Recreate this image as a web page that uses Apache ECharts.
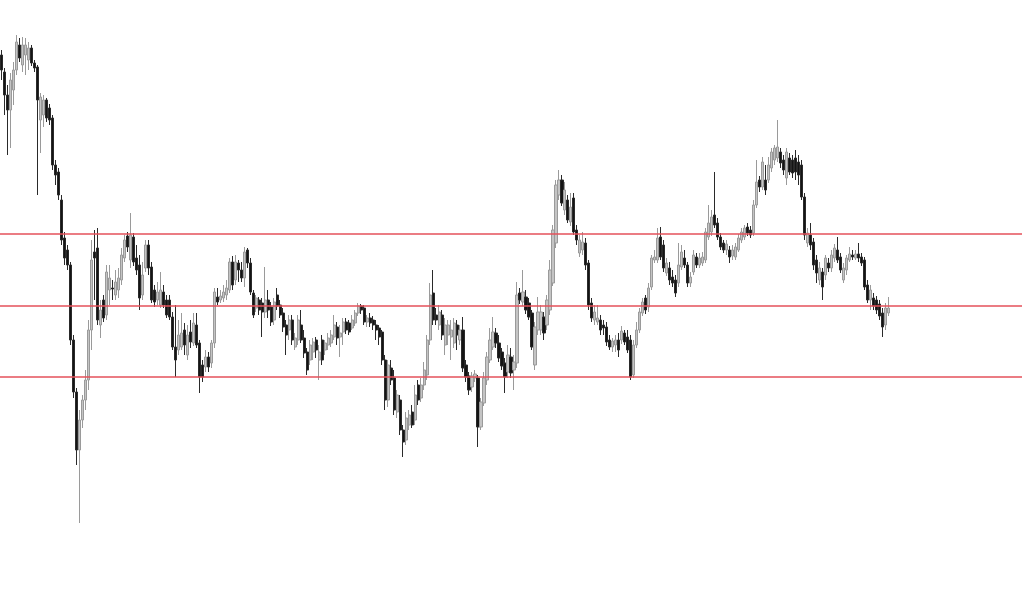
<!DOCTYPE html>
<html>
<head>
<meta charset="utf-8">
<script src="https://cdn.jsdelivr.net/npm/echarts@6/dist/echarts.min.js"></script>
<style>
html,body{margin:0;padding:0;background:#fff;}
#chart{width:1022px;height:600px;}
</style>
</head>
<body>
<div id="chart"></div>
<script>
// Price levels of the three horizontal red lines
const levels = [1366, 1294, 1223];

// Candles: [open, close, low, high]
const candles = [
[1545,1530,1520,1550],[1528,1505,1485,1532],[1505,1490,1445,1515],[1490,1520,1452,1527],[1510,1530,1495,1538],
[1530,1558,1525,1565],[1555,1542,1538,1562],[1535,1555,1528,1563],[1545,1555,1525,1562],[1540,1552,1530,1558],
[1552,1537,1534,1555],[1537,1532,1528,1540],[1533,1500,1405,1535],[1480,1503,1447,1507],[1485,1500,1473,1505],
[1500,1482,1478,1502],[1492,1480,1475,1496],[1482,1435,1430,1485],[1435,1425,1415,1440],[1428,1405,1400,1432],
[1400,1360,1355,1405],[1362,1342,1335,1368],[1350,1335,1330,1355],[1335,1260,1255,1338],[1260,1208,1202,1265],
[1208,1150,1135,1212],[1150,1180,1077,1190],[1180,1200,1172,1205],[1200,1220,1190,1230],[1220,1270,1210,1280],
[1270,1340,1250,1360],[1348,1342,1300,1370],[1352,1280,1275,1372],[1275,1290,1262,1300],[1300,1282,1278,1305],
[1285,1328,1280,1335],[1310,1322,1295,1335],[1312,1311,1300,1320],[1305,1318,1300,1330],[1310,1322,1302,1332],
[1320,1345,1315,1352],[1342,1360,1338,1365],[1364,1353,1348,1368],[1340,1365,1332,1387],[1363,1338,1334,1367],
[1342,1330,1325,1355],[1335,1302,1290,1345],[1305,1325,1300,1338],[1332,1355,1328,1360],[1355,1332,1325,1360],
[1333,1300,1297,1338],[1310,1298,1293,1315],[1300,1308,1295,1318],[1295,1310,1292,1328],[1308,1295,1292,1315],
[1300,1285,1282,1305],[1300,1283,1280,1305],[1283,1253,1250,1288],[1253,1240,1223,1295],[1250,1265,1245,1280],
[1253,1267,1250,1287],[1270,1255,1245,1277],[1245,1265,1240,1275],[1268,1258,1252,1280],[1257,1277,1254,1287],
[1275,1255,1252,1287],[1257,1223,1207,1260],[1235,1223,1218,1240],[1233,1243,1228,1250],[1243,1233,1228,1248],
[1237,1257,1232,1260],[1257,1308,1252,1312],[1303,1298,1295,1312],[1300,1304,1297,1310],[1302,1308,1298,1315],
[1305,1312,1300,1320],[1310,1338,1307,1342],[1338,1315,1310,1344],[1320,1338,1315,1345],[1337,1330,1318,1340],
[1330,1322,1318,1338],[1322,1348,1313,1353],[1350,1337,1332,1352],[1337,1308,1305,1342],[1307,1285,1282,1310],
[1292,1302,1288,1305],[1300,1290,1285,1303],[1297,1288,1263,1302],[1288,1300,1282,1333],[1300,1290,1282,1310],
[1293,1278,1274,1298],[1280,1298,1275,1302],[1305,1294,1290,1312],[1295,1285,1282,1300],[1287,1273,1268,1292],
[1275,1265,1245,1280],[1270,1280,1260,1285],[1280,1260,1255,1285],[1253,1262,1250,1267],[1260,1280,1255,1285],
[1275,1260,1257,1290],[1262,1247,1242,1270],[1248,1230,1225,1252],[1240,1255,1235,1260],[1248,1258,1240,1262],
[1260,1250,1242,1263],[1240,1248,1220,1255],[1260,1240,1235,1265],[1250,1257,1245,1260],[1255,1262,1250,1267],
[1257,1265,1253,1270],[1263,1275,1260,1285],[1273,1262,1255,1278],[1263,1267,1243,1275],[1268,1278,1255,1282],
[1278,1270,1266,1282],[1277,1268,1265,1280],[1272,1280,1270,1285],[1277,1287,1274,1290],[1287,1294,1284,1297],
[1294,1290,1286,1296],[1292,1278,1275,1295],[1278,1282,1273,1285],[1282,1277,1273,1287],[1280,1275,1270,1284],
[1275,1270,1260,1280],[1272,1263,1255,1275],[1268,1240,1235,1270],[1240,1200,1190,1245],[1200,1235,1193,1240],
[1232,1220,1215,1240],[1222,1190,1185,1230],[1188,1205,1182,1210],[1200,1170,1165,1205],[1170,1158,1143,1175],
[1160,1182,1155,1188],[1175,1185,1170,1190],[1188,1175,1172,1195],[1180,1205,1175,1215],[1215,1200,1195,1220],
[1202,1215,1198,1222],[1215,1230,1210,1238],[1225,1260,1220,1265],[1260,1305,1255,1317],[1307,1280,1275,1330],
[1285,1280,1275,1292],[1275,1288,1270,1295],[1285,1265,1260,1290],[1255,1275,1245,1282],[1265,1275,1255,1280],
[1263,1270,1240,1280],[1257,1277,1252,1282],[1275,1265,1250,1280],[1260,1270,1255,1275],[1270,1232,1228,1283],
[1235,1223,1218,1240],[1224,1210,1205,1228],[1213,1224,1208,1228],[1222,1226,1218,1230],[1222,1173,1153,1225],
[1173,1198,1170,1202],[1197,1222,1194,1228],[1220,1243,1215,1248],[1240,1260,1237,1272],[1253,1268,1250,1283],
[1267,1257,1252,1272],[1257,1242,1238,1265],[1248,1234,1230,1252],[1237,1223,1207,1242],[1228,1245,1222,1255],
[1243,1227,1222,1252],[1230,1238,1210,1245],[1237,1305,1232,1318],[1307,1300,1296,1312],[1298,1308,1294,1330],
[1303,1290,1286,1310],[1297,1283,1280,1302],[1287,1253,1250,1290],[1235,1273,1230,1278],[1270,1288,1265,1303],
[1270,1288,1265,1295],[1283,1267,1260,1288],[1275,1300,1270,1305],[1290,1330,1285,1340],[1317,1370,1314,1375],
[1357,1415,1352,1420],[1405,1420,1400,1430],[1420,1397,1394,1425],[1390,1410,1385,1418],[1400,1380,1377,1405],
[1378,1393,1374,1407],[1402,1368,1365,1407],[1370,1360,1355,1375],[1347,1360,1343,1365],[1350,1358,1345,1368],
[1357,1335,1330,1362],[1337,1295,1290,1340],[1297,1282,1278,1302],[1280,1288,1275,1295],[1278,1282,1275,1295],
[1280,1270,1265,1285],[1275,1272,1265,1280],[1273,1258,1254,1278],[1260,1253,1250,1265],[1253,1259,1248,1262],
[1255,1260,1248,1265],[1260,1250,1243,1267],[1260,1269,1256,1274],[1267,1258,1255,1270],[1263,1250,1247,1270],
[1260,1223,1220,1265],[1225,1255,1222,1260],[1255,1270,1252,1278],[1270,1288,1267,1292],[1287,1298,1284,1302],
[1302,1290,1286,1305],[1293,1312,1288,1317],[1313,1342,1310,1345],[1340,1343,1337,1350],[1340,1362,1337,1372],
[1363,1343,1340,1373],[1355,1332,1328,1360],[1327,1337,1324,1342],[1332,1320,1315,1338],[1323,1317,1313,1330],
[1320,1307,1303,1325],[1317,1335,1313,1357],[1333,1348,1330,1355],[1342,1335,1332,1350],[1335,1317,1313,1338],
[1317,1323,1313,1328],[1328,1345,1325,1350],[1343,1335,1332,1347],[1335,1342,1332,1347],[1337,1343,1334,1348],
[1340,1368,1337,1372],[1363,1377,1360,1395],[1368,1383,1364,1390],[1385,1375,1372,1428],[1377,1363,1360,1382],
[1363,1353,1350,1367],[1357,1350,1347,1360],[1350,1356,1345,1360],[1350,1343,1337,1354],[1344,1350,1340,1355],
[1343,1353,1340,1357],[1350,1362,1348,1366],[1360,1368,1357,1372],[1363,1372,1360,1375],[1373,1367,1364,1377],
[1370,1365,1362,1374],[1367,1395,1364,1400],[1395,1418,1392,1440],[1420,1413,1408,1424],[1413,1438,1410,1443],
[1420,1410,1405,1435],[1420,1435,1417,1443],[1432,1448,1428,1452],[1440,1452,1435,1455],[1442,1453,1438,1480],
[1448,1437,1432,1452],[1440,1430,1425,1445],[1422,1448,1415,1452],[1442,1428,1425,1447],[1440,1427,1422,1445],
[1442,1428,1420,1450],[1438,1425,1415,1445],[1435,1403,1400,1440],[1403,1365,1360,1407],[1357,1367,1353,1372],
[1365,1355,1350,1377],[1358,1335,1330,1362],[1340,1327,1317,1345],[1320,1332,1315,1338],[1328,1313,1300,1332],
[1325,1342,1320,1345],[1337,1332,1328,1342],[1332,1345,1328,1350],[1342,1352,1338,1356],[1350,1340,1337,1363],
[1343,1330,1327,1347],[1320,1332,1317,1337],[1330,1342,1325,1345],[1340,1346,1338,1353],[1345,1343,1340,1350],
[1342,1346,1340,1350],[1346,1342,1338,1357],[1343,1337,1334,1347],[1340,1313,1310,1343],[1315,1300,1297,1320],
[1300,1310,1290,1315],[1302,1294,1290,1307],[1300,1290,1286,1304],[1296,1284,1280,1300],[1287,1273,1263,1292],
[1275,1292,1270,1297],[1287,1292,1284,1303]
];

// Bar slots on the time axis (chart is shifted: empty slots on the right)
const totalSlots = 341;
const categories = Array.from({length: totalSlots}, (_, i) => 'Bar ' + (i + 1));

const chart = echarts.init(document.getElementById('chart'), null, {renderer: 'canvas'});
chart.setOption({
  animation: false,
  backgroundColor: '#ffffff',
  grid: {left: 0, right: 0, top: 0, bottom: 0},
  xAxis: {
    type: 'category',
    data: categories,
    boundaryGap: true,
    show: false
  },
  yAxis: {
    type: 'value',
    min: 1000,
    max: 1600,
    show: false,
    splitLine: {show: false}
  },
  series: [{
    type: 'candlestick',
    data: candles,
    barWidth: 2.6,
    itemStyle: {
      color: '#c4c4c4',
      color0: '#141414',
      borderColor: '#9a9a9a',
      borderColor0: '#2a2a2a',
      borderWidth: 1
    },
    markLine: {
      silent: true,
      symbol: 'none',
      label: {show: false},
      lineStyle: {color: '#e4505a', width: 1.5, type: 'solid'},
      data: levels.map(v => ({yAxis: v}))
    }
  }]
});
</script>
</body>
</html>
